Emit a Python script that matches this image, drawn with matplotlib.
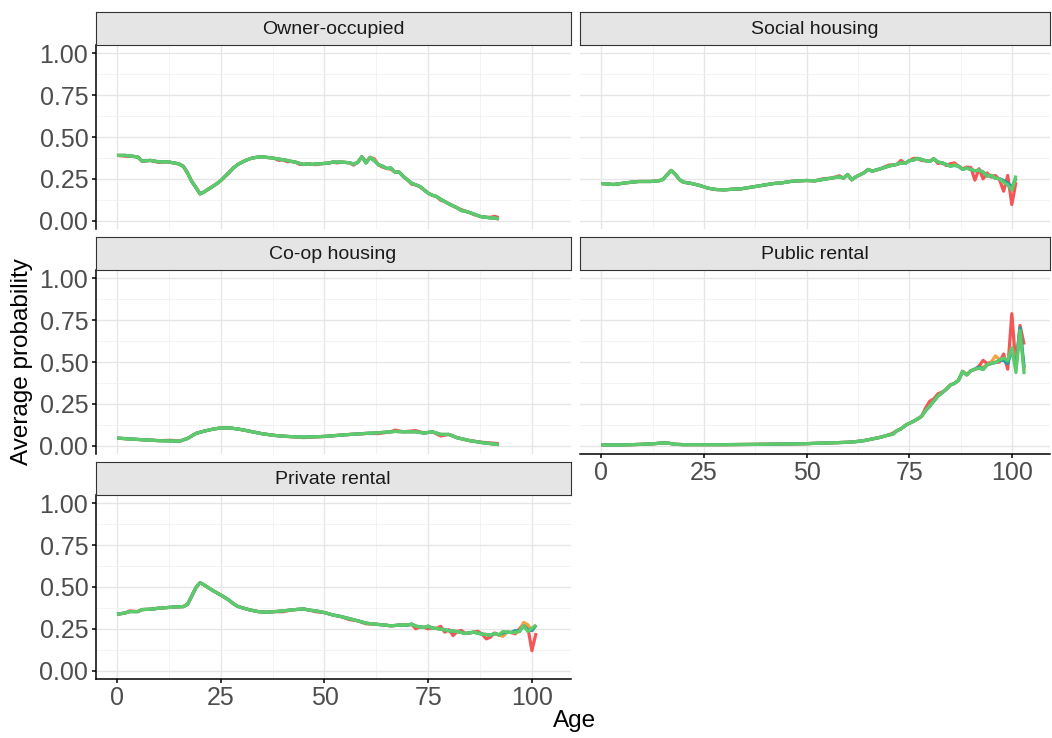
import matplotlib
matplotlib.use('Agg')
import matplotlib.pyplot as plt
from matplotlib.ticker import FixedLocator

plt.rcParams['font.family'] = ['Liberation Sans', 'DejaVu Sans']

# ---------------- data ----------------
panel_titles = ["Owner-occupied", "Social housing", "Co-op housing", "Public rental", "Private rental"]
series_colors = ["#F35656", "#F4A340", "#1F9CA6", "#5DCB6C"]  # red, orange, teal, green (drawn in this order)

x_ticks = [0, 25, 50, 75, 100]
y_ticks = [0.0, 0.25, 0.5, 0.75, 1.0]
y_tick_labels = ["0.00", "0.25", "0.50", "0.75", "1.00"]

# Owner-occupied
owner_age = [0, 2, 4, 5, 6, 8, 10, 12, 14, 15, 16, 17, 18, 19, 20, 21, 22, 23, 24, 25, 26, 27, 28, 29, 30,
             31, 32, 33, 34, 35, 36, 37, 38, 39, 40, 41, 42, 43, 44, 45, 46, 47, 48, 49, 50, 51, 52, 53, 54,
             55, 56, 57, 58, 59, 60, 61, 62, 63, 64, 65, 66, 67, 68, 69, 70, 71, 72, 73, 74, 75, 76, 77, 78,
             79, 80, 81, 82, 83, 84, 85, 86, 87, 88, 89, 90, 91, 92]
owner_green = [0.39, 0.39, 0.384, 0.38, 0.356, 0.36, 0.352, 0.352, 0.344, 0.338, 0.324, 0.284, 0.234, 0.198,
               0.16, 0.172, 0.188, 0.204, 0.22, 0.24, 0.264, 0.288, 0.314, 0.334, 0.348, 0.36, 0.37, 0.376,
               0.38, 0.382, 0.378, 0.376, 0.372, 0.368, 0.364, 0.36, 0.354, 0.35, 0.342, 0.336, 0.34, 0.336,
               0.34, 0.34, 0.342, 0.344, 0.35, 0.35, 0.35, 0.348, 0.346, 0.338, 0.348, 0.382, 0.344, 0.378,
               0.358, 0.334, 0.326, 0.312, 0.314, 0.29, 0.29, 0.264, 0.244, 0.224, 0.214, 0.204, 0.184,
               0.164, 0.152, 0.144, 0.128, 0.114, 0.1, 0.088, 0.076, 0.06, 0.056, 0.048, 0.04, 0.03, 0.022,
               0.02, 0.016, 0.016, 0.01]
owner_red = {2: 0.385, 10: 0.348, 39: 0.36, 41: 0.352, 44: 0.336, 48: 0.335, 53: 0.345, 57: 0.332,
             60: 0.352, 62: 0.37, 64: 0.32, 66: 0.308, 71: 0.218, 78: 0.122, 83: 0.066, 86: 0.036,
             90: 0.02, 91: 0.026, 92: 0.018}
owner_orange = {60: 0.348, 62: 0.364}
owner_teal = {}

# Social housing
social_age = [0, 3, 6, 9, 12, 14, 15, 16, 17, 18, 19, 20, 22, 24, 26, 28, 30, 32, 34, 36, 38, 40, 42, 44,
              46, 48, 50, 52, 54, 56, 58, 59, 60, 61, 62, 64, 65, 66, 68, 70, 72, 73, 74, 75, 76, 77, 78,
              79, 80, 81, 82, 83, 84, 85, 86, 87, 88, 89, 90, 91, 92, 93, 94, 95, 96, 97, 98, 99, 100, 101]
social_green = [0.222, 0.216, 0.226, 0.234, 0.234, 0.238, 0.246, 0.274, 0.30, 0.278, 0.246, 0.23, 0.222,
                0.21, 0.194, 0.186, 0.184, 0.188, 0.19, 0.198, 0.206, 0.214, 0.222, 0.226, 0.234, 0.238,
                0.24, 0.238, 0.246, 0.254, 0.262, 0.254, 0.276, 0.244, 0.262, 0.286, 0.306, 0.296, 0.31,
                0.326, 0.336, 0.346, 0.342, 0.358, 0.362, 0.372, 0.366, 0.358, 0.354, 0.37, 0.35, 0.346,
                0.336, 0.326, 0.33, 0.326, 0.306, 0.314, 0.306, 0.298, 0.302, 0.29, 0.266, 0.27, 0.254,
                0.25, 0.23, 0.214, 0.182, 0.27]
social_red = {54: 0.25, 58: 0.268, 70: 0.332, 73: 0.36, 76: 0.372, 78: 0.36, 82: 0.342, 84: 0.33,
              85: 0.34, 86: 0.345, 88: 0.31, 89: 0.32, 90: 0.318, 91: 0.242, 92: 0.31, 93: 0.25,
              94: 0.285, 95: 0.26, 96: 0.27, 97: 0.245, 98: 0.176, 99: 0.27, 100: 0.096, 101: 0.23}
social_orange = {86: 0.335, 94: 0.272, 99: 0.22, 100: 0.19, 101: 0.25}
social_teal = {98: 0.24, 99: 0.225, 100: 0.2, 101: 0.255}

# Co-op housing
coop_age = [0, 5, 10, 13, 15, 17, 19, 21, 23, 25, 27, 29, 31, 33, 35, 38, 41, 45, 50, 55, 60, 63, 66, 67,
            69, 72, 74, 76, 78, 80, 82, 85, 88, 92]
coop_green = [0.045, 0.037, 0.03, 0.028, 0.026, 0.043, 0.073, 0.087, 0.098, 0.106, 0.106, 0.10, 0.091,
              0.081, 0.071, 0.061, 0.055, 0.051, 0.055, 0.065, 0.073, 0.077, 0.083, 0.085, 0.083, 0.083,
              0.075, 0.083, 0.067, 0.067, 0.047, 0.03, 0.018, 0.006]
coop_red = {13: 0.032, 45: 0.048, 63: 0.072, 67: 0.093, 72: 0.09, 78: 0.058, 88: 0.02, 92: 0.012}
coop_orange = {}
coop_teal = {}

# Public rental
public_age = [0, 5, 10, 13, 15, 16, 18, 20, 30, 40, 45, 50, 55, 60, 62, 64, 66, 68, 70, 71, 72, 73, 74,
              75, 76, 77, 78, 79, 80, 81, 82, 83, 84, 85, 86, 87, 88, 89, 90, 91, 92, 93, 94, 95, 96, 97,
              98, 99, 100, 101, 102, 103]
public_green = [0.004, 0.004, 0.008, 0.012, 0.016, 0.016, 0.008, 0.006, 0.006, 0.008, 0.01, 0.012, 0.016,
                0.02, 0.024, 0.03, 0.04, 0.05, 0.064, 0.068, 0.089, 0.1, 0.12, 0.133, 0.145, 0.159, 0.175,
                0.21, 0.236, 0.266, 0.296, 0.316, 0.336, 0.362, 0.372, 0.39, 0.443, 0.423, 0.447, 0.457,
                0.463, 0.455, 0.483, 0.491, 0.497, 0.511, 0.523, 0.507, 0.584, 0.437, 0.688, 0.427]
public_red = {14: 0.018, 71: 0.075, 79: 0.225, 80: 0.266, 81: 0.28, 82: 0.31, 83: 0.32, 88: 0.445,
              92: 0.475, 93: 0.51, 94: 0.49, 95: 0.5, 97: 0.5, 98: 0.548, 99: 0.457, 100: 0.789,
              101: 0.47, 102: 0.719, 103: 0.604}
public_orange = {93: 0.47, 95: 0.5, 96: 0.537, 97: 0.515, 101: 0.5, 102: 0.69, 103: 0.45}
public_teal = {92: 0.47, 98: 0.51, 99: 0.49, 100: 0.57, 101: 0.47, 102: 0.705, 103: 0.467}

# Private rental
private_age = [0, 2, 3, 5, 6, 8, 10, 12, 14, 16, 17, 18, 19, 20, 21, 22, 23, 24, 25, 26, 27, 28, 29, 30,
               32, 34, 36, 38, 40, 42, 44, 45, 46, 48, 50, 52, 54, 56, 58, 60, 62, 64, 66, 68, 70, 71,
               72, 73, 74, 75, 76, 77, 78, 79, 80, 81, 82, 83, 84, 85, 86, 87, 88, 89, 90, 91, 92, 93,
               94, 95, 96, 97, 98, 99, 100, 101]
private_green = [0.337, 0.345, 0.353, 0.353, 0.365, 0.367, 0.373, 0.377, 0.381, 0.383, 0.397, 0.446,
                 0.496, 0.526, 0.512, 0.496, 0.48, 0.466, 0.452, 0.437, 0.421, 0.401, 0.385, 0.377,
                 0.363, 0.353, 0.349, 0.353, 0.357, 0.363, 0.367, 0.369, 0.363, 0.357, 0.347, 0.333,
                 0.323, 0.311, 0.298, 0.284, 0.278, 0.274, 0.268, 0.272, 0.272, 0.278, 0.266, 0.262,
                 0.258, 0.266, 0.254, 0.252, 0.248, 0.244, 0.238, 0.236, 0.234, 0.228, 0.222, 0.226,
                 0.23, 0.224, 0.218, 0.216, 0.212, 0.222, 0.214, 0.234, 0.23, 0.228, 0.23, 0.234,
                 0.268, 0.234, 0.254, 0.272]
private_red = {3: 0.357, 40: 0.352, 48: 0.352, 56: 0.305, 60: 0.28, 72: 0.25, 75: 0.25, 78: 0.265,
               79: 0.23, 80: 0.245, 81: 0.21, 83: 0.24, 87: 0.235, 89: 0.19, 90: 0.2, 91: 0.225,
               93: 0.215, 96: 0.22, 97: 0.25, 98: 0.28, 99: 0.26, 100: 0.119, 101: 0.225}
private_orange = {93: 0.205, 96: 0.228, 98: 0.288, 99: 0.275, 100: 0.24}
private_teal = {93: 0.225, 96: 0.24, 99: 0.245, 100: 0.24}

panel_data = [
    (owner_age, owner_green, [owner_red, owner_orange, owner_teal]),
    (social_age, social_green, [social_red, social_orange, social_teal]),
    (coop_age, coop_green, [coop_red, coop_orange, coop_teal]),
    (public_age, public_green, [public_red, public_orange, public_teal]),
    (private_age, private_green, [private_red, private_orange, private_teal]),
]

# ---------------- layout ----------------
W, H = 1052, 738
fig = plt.figure(figsize=(W / 100, H / 100), dpi=100)
fig.patch.set_facecolor('white')

cols = [(95.5, 570.5), (580.0, 1050.0)]
rows = [(12, 45, 229), (237, 270, 454), (462, 495, 679)]
grid = [(0, 0), (0, 1), (1, 0), (1, 1), (2, 0)]
bottom_panels = {3, 4}


def rect(x0, y0, x1, y1):
    return [x0 / W, 1 - y1 / H, (x1 - x0) / W, (y1 - y0) / H]


def with_overrides(ages, base, over):
    return [over.get(a, v) for a, v in zip(ages, base)]


for i, title in enumerate(panel_titles):
    r, c = grid[i]
    x0, x1 = cols[c]
    sy0, ay0, ay1 = rows[r]
    ax = fig.add_axes(rect(x0, ay0, x1, ay1))
    ax.set_facecolor('white')
    ax.set_xlim(-5.2, 109.3)
    ax.set_ylim(-0.05, 1.05)
    ax.xaxis.set_major_locator(FixedLocator(x_ticks))
    ax.xaxis.set_minor_locator(FixedLocator([12.5, 37.5, 62.5, 87.5]))
    ax.yaxis.set_major_locator(FixedLocator(y_ticks))
    ax.yaxis.set_minor_locator(FixedLocator([0.125, 0.375, 0.625, 0.875]))
    ax.grid(which='major', color='#E6E6E6', linewidth=1.0)
    ax.grid(which='minor', color='#F1F1F1', linewidth=0.6)
    ax.set_axisbelow(True)
    for s in ['top', 'right']:
        ax.spines[s].set_visible(False)
    ax.tick_params(which='minor', length=0)

    if c == 0:
        ax.spines['left'].set_color('black')
        ax.spines['left'].set_linewidth(1.1)
        ax.set_yticklabels(y_tick_labels)
        ax.tick_params(axis='y', which='major', length=3.2, width=1.1, color='black',
                       labelsize=18, labelcolor='#4D4D4D', pad=2)
    else:
        ax.spines['left'].set_visible(False)
        ax.tick_params(axis='y', which='major', length=0, labelleft=False)

    if i in bottom_panels:
        ax.spines['bottom'].set_color('black')
        ax.spines['bottom'].set_linewidth(1.1)
        ax.set_xticklabels([str(t) for t in x_ticks])
        ax.tick_params(axis='x', which='major', length=3.2, width=1.1, color='black',
                       labelsize=18, labelcolor='#4D4D4D', pad=2)
    else:
        ax.spines['bottom'].set_visible(False)
        ax.tick_params(axis='x', which='major', length=0, labelbottom=False)

    ages, green, overs = panel_data[i]
    for k, over in enumerate(overs):
        ax.plot(ages, with_overrides(ages, green, over), color=series_colors[k], linewidth=2.3,
                solid_joinstyle='round', solid_capstyle='butt', clip_on=False)
    ax.plot(ages, green, color=series_colors[3], linewidth=2.3, solid_joinstyle='round',
            solid_capstyle='butt', clip_on=False)

    # strip
    sax = fig.add_axes(rect(x0, sy0, x1, ay0))
    sax.set_facecolor('#E5E5E5')
    sax.set_xticks([])
    sax.set_yticks([])
    for s in sax.spines.values():
        s.set_color('#333333')
        s.set_linewidth(0.8)
    sax.text(0.5, 0.47, title, ha='center', va='center', fontsize=14, color='#1A1A1A',
             transform=sax.transAxes)

fig.text(22 / W, 1 - 362 / H, "Average probability", rotation=90, ha='center', va='center',
         fontsize=17.5, color='black')
fig.text(575 / W, 1 - 721 / H, "Age", ha='center', va='center', fontsize=17.5, color='black')

fig.savefig('out.png', dpi=100, facecolor='white')
